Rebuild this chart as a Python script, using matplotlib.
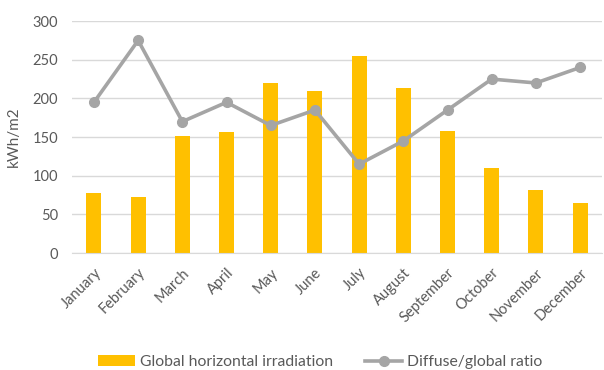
import numpy as np
import matplotlib.pyplot as plt

# Data
months = ["January", "February", "March", "April", "May", "June",
          "July", "August", "September", "October", "November", "December"]
ghi = [78, 73, 151, 157, 220, 210, 255, 213, 158, 110, 82, 65]
diffuse_ratio = [195, 275, 170, 195, 165, 185, 115, 145, 185, 225, 220, 240]

plt.rcParams['font.family'] = ['Lato', 'DejaVu Sans']
TEXT = '#595959'

fig = plt.figure(figsize=(6.04, 3.70), dpi=100)
ax = fig.add_axes([0.119, 0.316, 0.878, 0.627])

x = np.arange(len(months))
bars = ax.bar(x, ghi, width=0.34, color='#ffc000', label='Global horizontal irradiation', zorder=2)
line, = ax.plot(x, diffuse_ratio, color='#a5a5a5', lw=2.6, marker='o', ms=7,
                label='Diffuse/global ratio', zorder=3)

ax.set_xlim(-0.5, len(months) - 0.5)
ax.set_ylim(0, 300)
ax.set_yticks(range(0, 301, 50))
ax.grid(axis='y', color='#d9d9d9', lw=1, zorder=0)
ax.set_axisbelow(True)
for s in ['top', 'right', 'left']:
    ax.spines[s].set_visible(False)
ax.spines['bottom'].set_color('#d9d9d9')

ax.set_xticks(x)
ax.set_xticklabels(months, rotation=45, ha='right', rotation_mode='anchor')
ax.tick_params(axis='both', length=0, labelsize=10.5, colors=TEXT)
ax.tick_params(axis='y', pad=10)
ax.tick_params(axis='x', pad=9)
ax.set_ylabel('kWh/m2', fontsize=11, color=TEXT, labelpad=8)

ax.legend([bars, line], ['Global horizontal irradiation', 'Diffuse/global ratio'],
          loc='center', bbox_to_anchor=(0.468, -0.47), ncol=2, frameon=False,
          fontsize=11.3, labelcolor=TEXT, handlelength=2.4, columnspacing=2.0,
          handletextpad=0.3)

fig.savefig('out.png', dpi=100)
